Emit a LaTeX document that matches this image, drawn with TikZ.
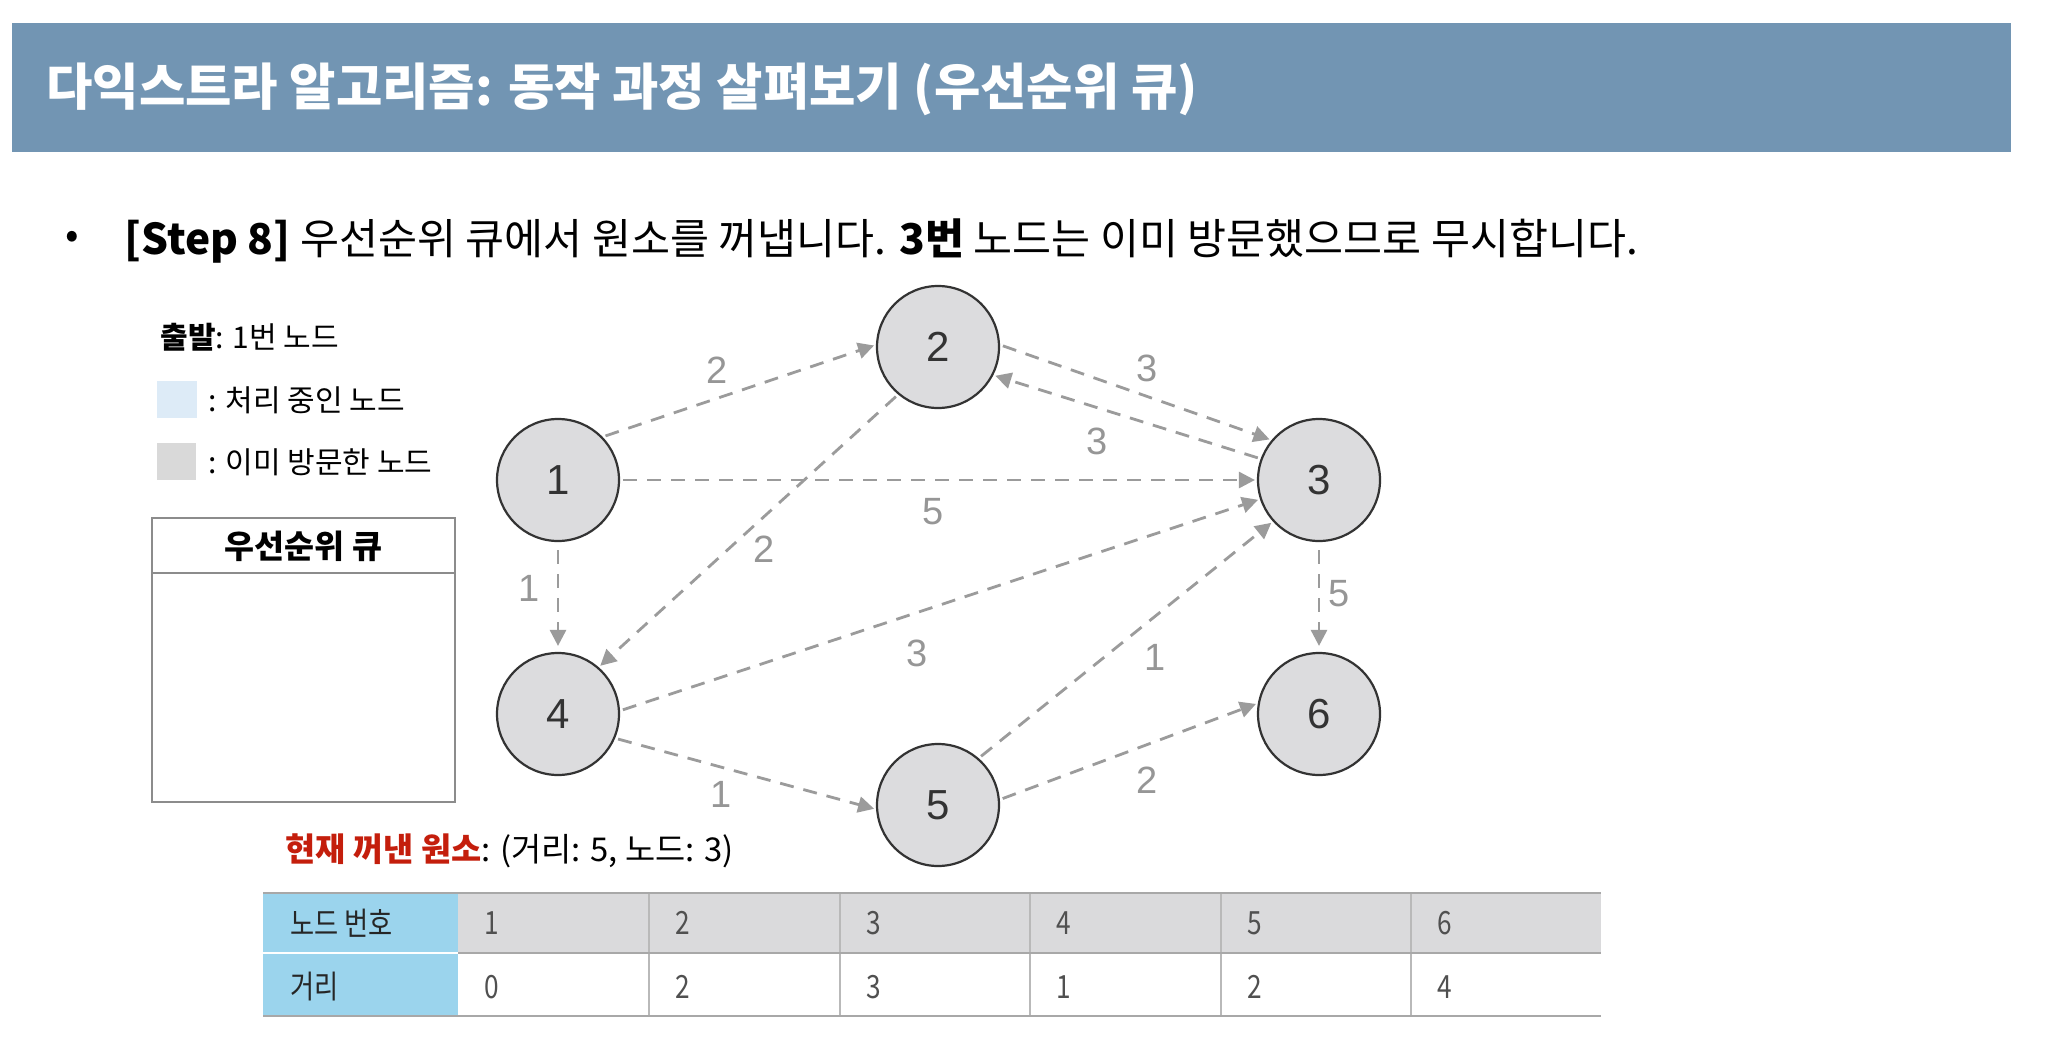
\documentclass[tikz,border=0pt]{standalone}
\usepackage{fontspec}
\setmainfont{Noto Sans CJK KR}
\newfontfamily\krc{Noto Sans CJK KR}[FakeStretch=0.82]
\newfontfamily\dig{Liberation Sans}
\usetikzlibrary{arrows.meta}
\definecolor{banner}{RGB}{114,149,179}
\definecolor{nodegray}{RGB}{220,220,222}
\definecolor{edgegray}{RGB}{155,155,155}
\definecolor{lblgray}{RGB}{150,150,150}
\definecolor{procblue}{RGB}{221,235,247}
\definecolor{visgray}{RGB}{217,217,217}
\definecolor{boxgray}{RGB}{140,140,140}
\definecolor{tblue}{RGB}{155,212,237}
\definecolor{tgray}{RGB}{218,218,220}
\definecolor{tline}{RGB}{168,168,168}
\definecolor{tvline}{RGB}{185,185,185}
\definecolor{tred}{RGB}{196,30,12}
\definecolor{ttext}{RGB}{80,80,80}
\tikzset{
  gnode/.style={circle, draw=black!80, line width=1.1pt, fill=nodegray, minimum size=61pt, inner sep=0pt, font=\dig\fontsize{21}{21}\selectfont, text=black!80},
  edge/.style={draw=edgegray, line width=1.4pt, dash pattern=on 7pt off 5pt, shorten <=1.5pt, shorten >=1pt, -{Triangle[length=8pt,width=8pt,fill=edgegray]}},
  elabel/.style={font=\dig\fontsize{19}{19}\selectfont, text=lblgray, inner sep=0pt},
  legtext/.style={anchor=west, inner sep=0pt, font=\fontsize{15}{15}\selectfont},
  tlabel/.style={anchor=west, inner sep=0pt, font=\krc\fontsize{16}{16}\selectfont, text=black!85},
  tnum/.style={anchor=west, inner sep=0pt, font=\krc\fontsize{16}{16}\selectfont, text=ttext}
}
\begin{document}
\begin{tikzpicture}[x=0.5pt,y=-0.5pt]
\useasboundingbox (0,0) rectangle (2048,1038);
\fill[white] (0,0) rectangle (2048,1038);
% banner
\fill[banner] (12,23) rectangle (2011,152);
\node[anchor=west, inner sep=0pt, text=white, font=\bfseries\fontsize{25.2}{25.2}\selectfont] (title) at (46,89) {다익스트라 알고리즘: 동작 과정 살펴보기 (우선순위 큐)};
% bullet line
\node[anchor=center, inner sep=0pt, font=\fontsize{20}{20}\selectfont] (bul) at (72,240) {•};
\node[anchor=base west, inner sep=0pt, font=\fontsize{21.2}{21.2}\selectfont] (step) at (124,254) {\textbf{[Step 8]} 우선순위 큐에서 원소를 꺼냅니다. \textbf{3번} 노드는 이미 방문했으므로 무시합니다.};
% legend
\node[legtext] (start) at (160,337) {\textbf{출발}: 1번 노드};
\fill[procblue] (157,381) rectangle (197,418);
\node[legtext] (proc) at (208,400) {: 처리 중인 노드};
\fill[visgray] (157,443) rectangle (196,480);
\node[legtext] (vis) at (208,462) {: 이미 방문한 노드};
% queue box
\draw[boxgray, line width=1.4pt] (152,518) rectangle (455,802);
\draw[boxgray, line width=1.4pt] (152,573) -- (455,573);
\node[inner sep=0pt, font=\bfseries\fontsize{16.3}{16.3}\selectfont] (qtitle) at (303.5,546) {우선순위 큐};
% graph nodes
\node[gnode] (n1) at (558,480) {1};
\node[gnode] (n2) at (938,347) {2};
\node[gnode] (n3) at (1319,480) {3};
\node[gnode] (n4) at (558,714) {4};
\node[gnode] (n5) at (938,805) {5};
\node[gnode] (n6) at (1319,714) {6};
% edges
\draw[edge] (n1.44) -- (n2.178);
\draw[edge] (n2.2) -- (n3.140);
\draw[edge] (n3.160) -- (n2.-27);
\draw[edge] (n1.east) -- (n3.west);
\draw[edge] (n2.230) -- (n4.49);
\draw[edge, shorten <=4pt, shorten >=3pt] (n1.south) -- (n4.north);
\draw[edge] (n4.3) -- (n3.198);
\draw[edge] (n5.49) -- (n3.222);
\draw[edge, shorten <=4pt, shorten >=3pt] (n3.south) -- (n6.north);
\draw[edge] (n4.-23) -- (n5.184);
\draw[edge] (n5.5) -- (n6.170);
% edge labels
\node[elabel] (l12) at (717,370) {2};
\node[elabel] (l23) at (1147,368) {3};
\node[elabel] (l32) at (1097,441) {3};
\node[elabel] (l13) at (933,512) {5};
\node[elabel] (l24) at (764,549) {2};
\node[elabel] (l14) at (529,588) {1};
\node[elabel] (l43) at (917,653) {3};
\node[elabel] (l53) at (1155,657) {1};
\node[elabel] (l36) at (1339,594) {5};
\node[elabel] (l45) at (721,794) {1};
\node[elabel] (l56) at (1147,780) {2};
% current element
\node[anchor=west, inner sep=0pt, font=\fontsize{16.4}{16.4}\selectfont] (cur) at (285,851) {\textcolor{tred}{\bfseries 현재 꺼낸 원소}: (거리: 5, 노드: 3)};
% table
\fill[tblue] (263,893) rectangle (458,1016);
\fill[tgray] (458,893) rectangle (1601,953);
\draw[white, line width=1.2pt] (263,953) -- (458,953);
\foreach \x in {649,840,1030,1221,1411} \draw[tvline, line width=0.8pt] (\x,893) -- (\x,1016);
\draw[tline, line width=1.1pt] (263,893) -- (1601,893);
\draw[tline, line width=1.3pt] (458,953) -- (1601,953);
\draw[tline, line width=1.1pt] (263,1016) -- (1601,1016);
\node[tlabel] (hnode) at (290,923) {노드 번호};
\node[tlabel] (hdist) at (290,987) {거리};
\foreach \i/\x/\d in {1/458/0,2/649/2,3/840/3,4/1030/1,5/1221/2,6/1411/4} {
  \node[tnum] (c\i) at (\x+26,923) {\i};
  \node[tnum] (d\i) at (\x+26,987) {\d};
}
\end{tikzpicture}
\end{document}
